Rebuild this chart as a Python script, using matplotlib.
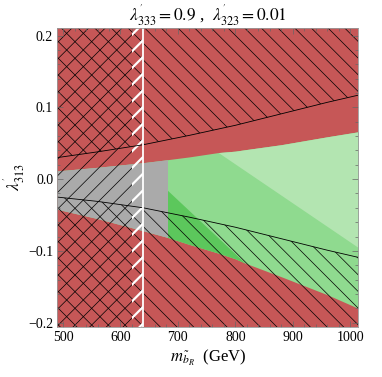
import matplotlib
matplotlib.use("Agg")
import matplotlib.pyplot as plt
from matplotlib.patches import Rectangle, Polygon
from matplotlib.ticker import MultipleLocator, FixedLocator

plt.rcParams["font.family"] = ["Liberation Serif", "DejaVu Serif"]
plt.rcParams["mathtext.fontset"] = "stix"
plt.rcParams["hatch.linewidth"] = 0.5

# boundaries of the allowed band
m_band = [490, 560, 640, 681, 720, 770, 800, 817, 880, 960, 1014]
band_lo = [-0.042, -0.055, -0.072, -0.081, -0.091, -0.103, -0.111, -0.117, -0.136, -0.161, -0.180]
band_hi = [0.0115, 0.0165, 0.023, 0.027, 0.031, 0.037, 0.039, 0.041, 0.048, 0.059, 0.066]

# hatched exclusion curves
m_cut = [490, 560, 640, 720, 800, 880, 960, 1014]
cut_hi = [0.030, 0.038, 0.048, 0.061, 0.075, 0.091, 0.107, 0.117]
cut_lo = [-0.025, -0.031, -0.040, -0.053, -0.067, -0.083, -0.099, -0.109]

m_gray = 681           # gray part ends here
m_white = 640          # white boundary line
m_white_strip = 620
dark_m = [681, 817]
dark_lam = [-0.015, -0.117]
light_m = [770, 1014]
light_lam = [0.037, -0.0955]

xlim = (490, 1014)
ylim = (-0.206, 0.211)

red = "#c65757"
gray = "#aaaaaa"
green_light = "#b3e5b1"
green_mid = "#8fda8f"
green_dark = "#5cc75c"

fig = plt.figure(figsize=(3.82, 3.77), dpi=100)
ax = fig.add_axes([0.150, 0.1326, 0.788, 0.794])
ax.set_facecolor(red)

# green band
ax.fill_between(m_band, band_lo, band_hi, color=green_mid, lw=0)
light = ax.fill_between(m_band, band_lo, band_hi, color=green_light, lw=0)
light.set_clip_path(Polygon([(light_m[0], light_lam[0]), (light_m[1], light_lam[1]),
                             (light_m[1], ylim[1]), (light_m[0], ylim[1])],
                            transform=ax.transData))
dark = ax.fill_between(m_band, band_lo, band_hi, color=green_dark, lw=0)
dark.set_clip_path(Polygon([(dark_m[0], dark_lam[0]), (dark_m[1], dark_lam[1]),
                            (dark_m[1], ylim[0]), (dark_m[0], ylim[0])],
                           transform=ax.transData))
gr = ax.fill_between(m_band, band_lo, band_hi, color=gray, lw=0)
gr.set_clip_path(Rectangle((xlim[0], ylim[0]), m_gray - xlim[0], ylim[1] - ylim[0],
                           transform=ax.transData))

# hatching
ax.fill_between(m_cut, cut_hi, ylim[1], facecolor="none", edgecolor="k", lw=0, hatch="\\\\")
ax.fill_between(m_cut, ylim[0], cut_lo, facecolor="none", edgecolor="k", lw=0, hatch="\\\\")
ax.plot(m_cut, cut_hi, color="k", lw=0.6)
ax.plot(m_cut, cut_lo, color="k", lw=0.6)
ax.axvspan(xlim[0], m_white, facecolor="none", edgecolor="k", lw=0, hatch="//")

with plt.rc_context({"hatch.linewidth": 1.6}):
    ws = ax.axvspan(m_white_strip, m_white, facecolor="none", edgecolor="white", lw=0, hatch="//")
if hasattr(ws, "set_hatch_linewidth"):
    ws.set_hatch_linewidth(1.6)
ax.axvline(m_white, color="white", lw=1.3)

ax.set_xlim(*xlim)
ax.set_ylim(*ylim)
ax.xaxis.set_major_locator(MultipleLocator(100))
ax.xaxis.set_minor_locator(MultipleLocator(20))
ax.yaxis.set_major_locator(FixedLocator([-0.2, -0.1, 0.0, 0.1, 0.2]))
ax.yaxis.set_minor_locator(MultipleLocator(0.02))
ax.set_yticklabels(["\u22120.2", "\u22120.1", "0.0", "0.1", "0.2"])
ax.tick_params(which="both", direction="in", top=True, right=True,
               color="#666666", width=0.5, labelsize=10, pad=3)
ax.tick_params(which="major", length=4)
ax.tick_params(which="minor", length=2)
for s in ax.spines.values():
    s.set_color("#999999")
    s.set_linewidth(0.6)

ax.set_title(r"$\lambda^{'}_{333}=0.9$ ,  $\lambda^{'}_{323}=0.01$", fontsize=12.5, pad=3)
ax.set_xlabel(r"$m_{\tilde{b}_R}$  (GeV)", fontsize=12, labelpad=3)
ax.set_ylabel(r"$\lambda^{'}_{313}$", fontsize=12.5, labelpad=1)

fig.savefig("out.png", dpi=100)
